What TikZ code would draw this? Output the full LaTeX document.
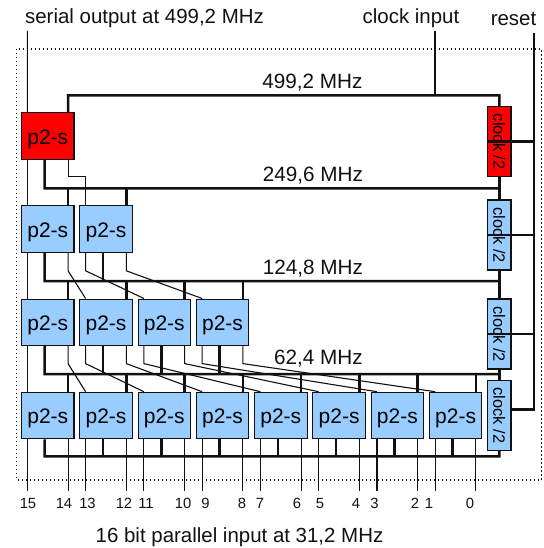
\documentclass[tikz,border=0pt]{standalone}
\usepackage{fontspec}
\setmainfont{Liberation Sans}
\usetikzlibrary{positioning,calc}
\definecolor{serblue}{HTML}{99CCFF}
\definecolor{serred}{HTML}{FF0000}
\definecolor{inkline}{HTML}{111111}
\tikzset{
  pbox/.style={rectangle,draw=inkline,line width=1.1pt,fill=serblue,minimum width=52.5pt,minimum height=46.5pt,inner sep=0pt,text height=16.5pt,text depth=0pt,font=\fontsize{21}{23}\selectfont},
  pboxred/.style={pbox,fill=serred},
  clkbox/.style={rectangle,draw=inkline,line width=1.1pt,fill=serblue,rotate=-90,minimum width=70pt,minimum height=23.3pt,inner sep=0pt,text height=12pt,text depth=0pt,font=\fontsize{16.4}{19}\selectfont},
  clkboxred/.style={clkbox,fill=serred},
  bus/.style={line width=2.5pt,inkline},
  wire/.style={line width=1.1pt,inkline},
  biglabel/.style={font=\fontsize{20.45}{23}\selectfont,text=inkline,inner sep=0pt},
  ratelabel/.style={font=\fontsize{20.7}{23}\selectfont,text=inkline,inner sep=0pt},
  pinlabel/.style={font=\fontsize{14.8}{16}\selectfont,text=inkline,inner xsep=0pt,inner ysep=6.5pt,text height=10.5pt,text depth=0pt}
}

\begin{document}
\begin{tikzpicture}[x=1pt,y=-1pt]
        \useasboundingbox (0,0) rectangle (543,548);
        \draw[inkline,line width=1.1pt,dash pattern=on 1.2pt off 2.8pt] (16.7,49) rectangle (541.3,480);
        % labels
        \node[biglabel] (lserial) at (144.5,18.5) {serial output at 499,2 MHz};
        \node[biglabel] (lclock) at (411,18.5) {clock input};
        \node[biglabel] (lreset) at (513.5,18.5) {reset};
        \node[ratelabel] (lratea) at (312.5,83) {499,2 MHz};
        \node[ratelabel] (lrateb) at (313,176) {249,6 MHz};
        \node[ratelabel] (lratec) at (313,269) {124,8 MHz};
        \node[ratelabel] (lrated) at (318.5,359) {62,4 MHz};
        \node[biglabel] (lparallel) at (239.5,537.5) {16 bit parallel input at 31,2 MHz};
        \coordinate (serialin) at (27.3,31);
        \coordinate (clockin) at (435,31.3);
        \coordinate (resetin) at (534,32.7);
        \coordinate (resetend) at (534,409.3);
        \coordinate (busa) at (68,95.3);
        \coordinate (busb) at (44.7,188.3);
        \coordinate (busc) at (44.7,281);
        \coordinate (busd) at (44.7,374);
        \coordinate (buse) at (44.7,456.3);
        % serializers
        \node[pboxred] (pa) at (47.75,136) {p2-s};
        \node[pbox] (pb1) at (47.75,229) {p2-s};
        \node[pbox] (pb2) at (106,229) {p2-s};
        \node[pbox] (pc1) at (47.75,322.3) {p2-s};
        \node[pbox] (pc2) at (106,322.3) {p2-s};
        \node[pbox] (pc3) at (164.3,322.3) {p2-s};
        \node[pbox] (pc4) at (222.55,322.3) {p2-s};
        \node[pbox] (pd1) at (47.75,415.5) {p2-s};
        \node[pbox] (pd2) at (106,415.5) {p2-s};
        \node[pbox] (pd3) at (164.3,415.5) {p2-s};
        \node[pbox] (pd4) at (222.55,415.5) {p2-s};
        \node[pbox] (pd5) at (280.8,415.5) {p2-s};
        \node[pbox] (pd6) at (339.1,415.5) {p2-s};
        \node[pbox] (pd7) at (397.35,415.5) {p2-s};
        \node[pbox] (pd8) at (455.6,415.5) {p2-s};
        % dividers
        \node[clkboxred] (clocka) at (499.35,141.7) {clock /2};
        \node[clkbox] (clockb) at (499.35,235) {clock /2};
        \node[clkbox] (clockc) at (499.35,334) {clock /2};
        \node[clkbox] (clockd) at (499.35,415.5) {clock /2};
        % pin numbers
        \node[pinlabel] (n15) at (28,503) {15};
        \node[pinlabel] (n14) at (64,503) {14};
        \node[pinlabel] (n13) at (87.5,503) {13};
        \node[pinlabel] (n12) at (124,503) {12};
        \node[pinlabel] (n11) at (146,503) {11};
        \node[pinlabel] (n10) at (183,503) {10};
        \node[pinlabel] (n9) at (205.5,503) {9};
        \node[pinlabel] (n8) at (242,503) {8};
        \node[pinlabel] (n7) at (260,503) {7};
        \node[pinlabel] (n6) at (297,503) {6};
        \node[pinlabel] (n5) at (320,503) {5};
        \node[pinlabel] (n4) at (356,503) {4};
        \node[pinlabel] (n3) at (374.5,503) {3};
        \node[pinlabel] (n2) at (415,503) {2};
        \node[pinlabel] (n1) at (429,503) {1};
        \node[pinlabel] (n0) at (470,503) {0};
        % clock and reset
        \draw[bus] (clocka.west) |- (busa) -- ([xshift=20.3]pa.north);
        \draw[bus] (clockin) -- (clockin |- busa);
        \draw[bus] ([xshift=-3]pa.south) -- (busb) -- (busb -| clocka.east);
        \draw[bus] (clocka.east) -- (clockb.west);
        \draw[bus] ([xshift=-3]pb1.south) -- (busc) -- (busc -| clockb.east);
        \draw[bus] (clockb.east) -- (clockc.west);
        \draw[bus] ([xshift=-3]pc1.south) -- (busd) -- (busd -| clockc.east);
        \draw[bus] (clockc.east) -- (clockd.west);
        \draw[bus] ([xshift=-3]pd1.south) -- (buse) -| (clockd.east);
        \draw[bus] (resetin) -- (resetend) -- (resetend -| clockd.north);
        \draw[bus] (clocka.south) -- (clocka.south -| resetin);
        \draw[bus] (clockb.south) -- (clockb.south -| resetin);
        \draw[bus] (clockc.south) -- (clockc.south -| resetin);
        % clock pins
        \draw[bus] ([xshift=20.3]pb1.north) -- ([xshift=20.3]pb1.north |- busb);
        \draw[bus] ([xshift=20.3]pb2.north) -- ([xshift=20.3]pb2.north |- busb);
        \draw[bus] ([xshift=-3]pb2.south) -- ([xshift=-3]pb2.south |- busc);
        \draw[bus] ([xshift=20.3]pc1.north) -- ([xshift=20.3]pc1.north |- busc);
        \draw[bus] ([xshift=20.3]pc2.north) -- ([xshift=20.3]pc2.north |- busc);
        \draw[bus] ([xshift=20.3]pc3.north) -- ([xshift=20.3]pc3.north |- busc);
        \draw[bus] ([xshift=20.3]pc4.north) -- ([xshift=20.3]pc4.north |- busc);
        \draw[bus] ([xshift=-3]pc2.south) -- ([xshift=-3]pc2.south |- busd);
        \draw[bus] ([xshift=-3]pc3.south) -- ([xshift=-3]pc3.south |- busd);
        \draw[bus] ([xshift=-3]pc4.south) -- ([xshift=-3]pc4.south |- busd);
        \draw[bus] ([xshift=20.3]pd1.north) -- ([xshift=20.3]pd1.north |- busd);
        \draw[bus] ([xshift=20.3]pd2.north) -- ([xshift=20.3]pd2.north |- busd);
        \draw[bus] ([xshift=20.3]pd3.north) -- ([xshift=20.3]pd3.north |- busd);
        \draw[bus] ([xshift=20.3]pd4.north) -- ([xshift=20.3]pd4.north |- busd);
        \draw[bus] ([xshift=20.3]pd5.north) -- ([xshift=20.3]pd5.north |- busd);
        \draw[bus] ([xshift=20.3]pd6.north) -- ([xshift=20.3]pd6.north |- busd);
        \draw[bus] ([xshift=20.3]pd7.north) -- ([xshift=20.3]pd7.north |- busd);
        \draw[bus] ([xshift=20.3]pd8.north) -- ([xshift=20.3]pd8.north |- busd);
        \draw[bus] ([xshift=-3]pd2.south) -- ([xshift=-3]pd2.south |- buse);
        \draw[bus] ([xshift=-3]pd3.south) -- ([xshift=-3]pd3.south |- buse);
        \draw[bus] ([xshift=-3]pd4.south) -- ([xshift=-3]pd4.south |- buse);
        \draw[bus] ([xshift=-3]pd5.south) -- ([xshift=-3]pd5.south |- buse);
        \draw[bus] ([xshift=-3]pd6.south) -- ([xshift=-3]pd6.south |- buse);
        \draw[bus] ([xshift=-3]pd7.south) -- ([xshift=-3]pd7.south |- buse);
        \draw[bus] ([xshift=-3]pd8.south) -- ([xshift=-3]pd8.south |- buse);
        % data wires
        \draw[wire] (serialin) -- ([xshift=-20.4]pa.north);
        \draw[wire] ([xshift=-20.4]pa.south) -- ([xshift=-20.4]pb1.north);
        \draw[wire] ([xshift=20.3]pa.south) -- ++(0,17) -| ([xshift=-20.4]pb2.north);
        \draw[wire] ([xshift=-20.4]pb1.south) -- ([xshift=-20.4]pc1.north);
        \draw[wire] ([xshift=20.3]pb1.south) -- ++(0,18) -- ([xshift=-20.4]pc2.north);
        \draw[wire] ([xshift=-20.4]pb2.south) -- ++(0,18) -- ([xshift=-20.4]pc3.north);
        \draw[wire] ([xshift=20.3]pb2.south) -- ++(0,18) -- ([xshift=-20.4]pc4.north);
        \draw[wire] ([xshift=-20.4]pc1.south) -- ([xshift=-20.4]pd1.north);
        \draw[wire] ([xshift=20.3]pc1.south) -- ++(0,17.5) -- ([xshift=-20.4]pd2.north);
        \draw[wire] ([xshift=-20.4]pc2.south) -- ++(0,17.5) -- ([xshift=-20.4]pd3.north);
        \draw[wire] ([xshift=20.3]pc2.south) -- ++(0,17.5) -- ([xshift=-20.4]pd4.north);
        \draw[wire] ([xshift=-20.4]pc3.south) -- ++(0,17.5) -- ([xshift=-20.4]pd5.north);
        \draw[wire] ([xshift=20.3]pc3.south) -- ++(0,17.5) -- ([xshift=-20.4]pd6.north);
        \draw[wire] ([xshift=-20.4]pc4.south) -- ++(0,17.5) -- ([xshift=-20.4]pd7.north);
        \draw[wire] ([xshift=20.3]pc4.south) -- ++(0,17.5) -- ([xshift=-20.4]pd8.north);
        % parallel inputs
        \draw[wire] ([xshift=-20.4]pd1.south) -- ([xshift=-20.4]pd1.south |- n15.north);
        \draw[wire] ([xshift=20.3]pd1.south) -- ([xshift=20.3]pd1.south |- n14.north);
        \draw[wire] ([xshift=-20.4]pd2.south) -- ([xshift=-20.4]pd2.south |- n13.north);
        \draw[wire] ([xshift=20.3]pd2.south) -- ([xshift=20.3]pd2.south |- n12.north);
        \draw[wire] ([xshift=-20.4]pd3.south) -- ([xshift=-20.4]pd3.south |- n11.north);
        \draw[wire] ([xshift=20.3]pd3.south) -- ([xshift=20.3]pd3.south |- n10.north);
        \draw[wire] ([xshift=-20.4]pd4.south) -- ([xshift=-20.4]pd4.south |- n9.north);
        \draw[wire] ([xshift=20.3]pd4.south) -- ([xshift=20.3]pd4.south |- n8.north);
        \draw[wire] ([xshift=-20.4]pd5.south) -- ([xshift=-20.4]pd5.south |- n7.north);
        \draw[wire] ([xshift=20.3]pd5.south) -- ([xshift=20.3]pd5.south |- n6.north);
        \draw[wire] ([xshift=-20.4]pd6.south) -- ([xshift=-20.4]pd6.south |- n5.north);
        \draw[wire] ([xshift=20.3]pd6.south) -- ([xshift=20.3]pd6.south |- n4.north);
        \draw[wire] ([xshift=-20.4]pd7.south) -- ([xshift=-20.4]pd7.south |- n3.north);
        \draw[wire] ([xshift=20.3]pd7.south) -- ([xshift=20.3]pd7.south |- n2.north);
        \draw[wire] ([xshift=-20.4]pd8.south) -- ([xshift=-20.4]pd8.south |- n1.north);
        \draw[wire] ([xshift=20.3]pd8.south) -- ([xshift=20.3]pd8.south |- n0.north);
      \end{tikzpicture}
\end{document}
